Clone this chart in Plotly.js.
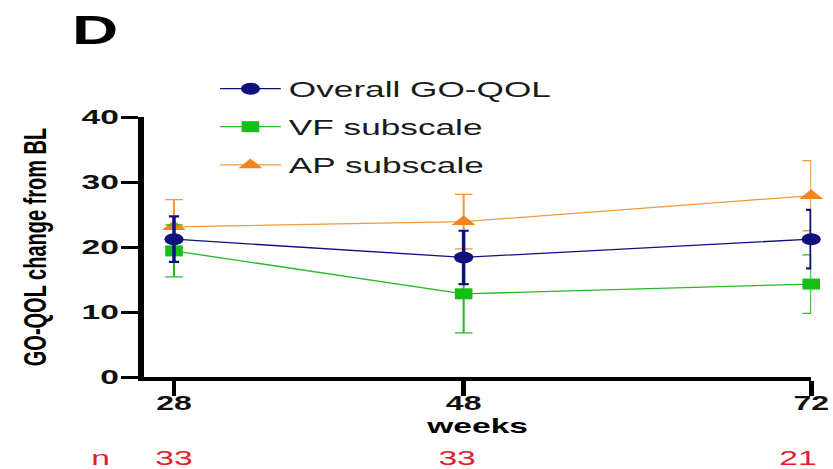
<!DOCTYPE html>
<html>
<head>
<meta charset="utf-8">
<script src="https://cdn.plot.ly/plotly-3.0.1.min.js"></script>
<style>
  html, body { margin: 0; padding: 0; background: #fff; }
  #wrap { width: 833px; height: 469px; overflow: hidden; }
  /* the figure is drawn narrow and widened horizontally */
  #plot { width: 521px; height: 469px; transform: scaleX(1.6); transform-origin: 0 0; }
</style>
</head>
<body>
<div id="wrap"><div id="plot"></div></div>
<script>
// Time points (weeks) and number of patients at each
const weeks = [28, 48, 72];
const nPatients = [33, 33, 21];

// Mean change from baseline with error bars
const overall = [21.2, 18.4, 21.2];
const overallErr = [3.5, 4.1, 4.5];
const vf = [19.4, 12.8, 14.3];
const vfErr = [4.0, 6.0, 4.5];
const ap = [23.1, 23.9, 27.9];
const apErr = [4.2, 4.2, 5.4];

const yTicks = [0, 10, 20, 30, 40];

const FONT = 'Liberation Sans, Arial, sans-serif';
const NAVY = '#10107e';
const GREEN = '#28b828';
const GREEN_MK = '#14c014';
const ORANGE = '#f2983e';
const ORANGE_MK = '#f5841e';

function series(name, y, err, color, mkColor, symbol, size, capW, barW, legendId) {
  return {
    type: 'scatter', mode: 'lines+markers', name: name,
    x: weeks, y: y,
    line: {color: color, width: 1.3},
    marker: {color: mkColor, symbol: symbol, size: size, line: {width: 0}},
    error_y: {type: 'data', array: err, visible: true, color: color, thickness: barW, width: capW},
    legend: legendId,
    cliponaxis: false
  };
}

const traces = [
  series('AP subscale', ap, apErr, ORANGE, ORANGE_MK, 'triangle-up', 13, 5.5, 1.3, 'legend3'),
  series('VF subscale', vf, vfErr, GREEN, GREEN_MK, 'square', 11, 5.5, 1.3, 'legend2'),
  series('Overall GO-QOL', overall, overallErr, NAVY, NAVY, 'circle', 12, 3.2, 2.2, 'legend')
];

function legendAt(y) {
  return {
    x: 0.102, y: y, xanchor: 'left', yanchor: 'middle',
    itemwidth: 38,
    bgcolor: 'rgba(0,0,0,0)', borderwidth: 0,
    font: {family: FONT, size: 22, color: '#1a1a1a'}
  };
}

const annotations = [{
  xref: 'paper', yref: 'paper', x: -0.065, y: -0.308,
  xanchor: 'center', yanchor: 'middle', showarrow: false,
  text: 'n', font: {family: FONT, size: 21, color: '#e0202a'}
}];
weeks.forEach((w, i) => {
  annotations.push({
    xref: 'x', yref: 'paper', x: w, y: -0.308,
    xanchor: 'center', yanchor: 'middle', showarrow: false,
    xshift: i === weeks.length - 1 ? -9 : (i === 1 ? -4 : 0),
    text: String(nPatients[i]), font: {family: FONT, size: 21, color: '#e0202a'}
  });
});
annotations.push({
  xref: 'paper', yref: 'paper', x: -0.112, y: 1.335,
  xanchor: 'left', yanchor: 'middle', showarrow: false,
  text: '<b>D</b>', font: {family: FONT, size: 40, color: '#000'}
});

const layout = {
  width: 521, height: 469,
  margin: {l: 90, r: 13.5, t: 117, b: 92},
  paper_bgcolor: '#fff', plot_bgcolor: '#fff',
  font: {family: FONT, color: '#000'},
  showlegend: true,
  legend: legendAt(1.108),
  legend2: legendAt(0.962),
  legend3: legendAt(0.815),
  xaxis: {
    range: [25.93, 72], tickvals: weeks, ticktext: weeks.map(String),
    showgrid: false, zeroline: false,
    showline: true, linecolor: '#000', linewidth: 3.5,
    ticks: 'outside', ticklen: 15, tickwidth: 3, tickcolor: '#000',
    ticklabelstandoff: -9,
    tickfont: {family: FONT, size: 20, color: '#111', weight: 'bold'},
    title: {text: '<b>weeks</b>', font: {family: FONT, size: 21, color: '#000'}, standoff: 2}
  },
  yaxis: {
    range: [0, 40], tickvals: yTicks, ticktext: yTicks.map(String),
    showgrid: false, zeroline: false,
    showline: true, linecolor: '#000', linewidth: 3.5,
    ticks: 'outside', ticklen: 11, tickwidth: 3, tickcolor: '#000',
    ticklabelstandoff: -3,
    tickfont: {family: FONT, size: 21, color: '#111', weight: 'bold'},
    title: {text: '<b>GO-QOL change from BL</b>', font: {family: FONT, size: 20, color: '#000'}, standoff: 17}
  },
  annotations: annotations
};

Plotly.newPlot('plot', traces, layout, {staticPlot: true, displayModeBar: false});
</script>
</body>
</html>
